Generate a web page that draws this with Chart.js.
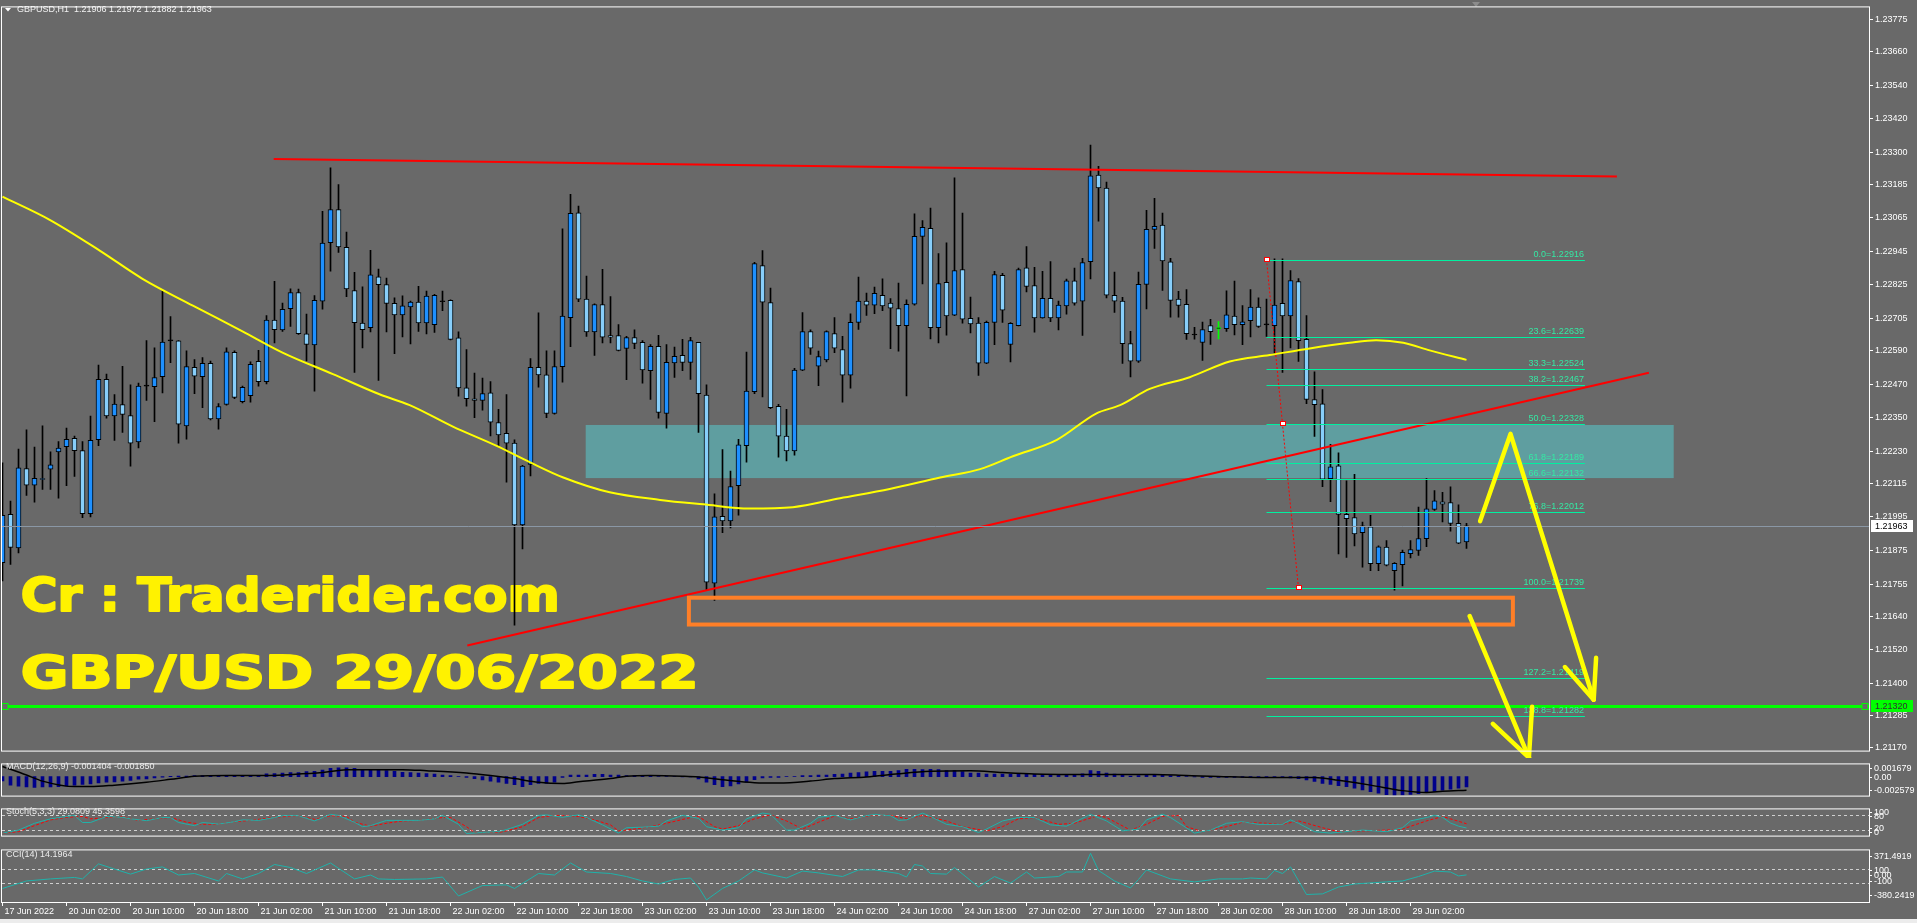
<!DOCTYPE html>
<html>
<head>
<meta charset="utf-8">
<title>GBPUSD H1</title>
<script src="https://cdn.jsdelivr.net/npm/chart.js@4.4.0/dist/chart.umd.min.js"></script>
<style>
  html, body { margin: 0; padding: 0; background: #696969; overflow: hidden; }
  #wrap { position: relative; width: 1917px; height: 923px; background: #696969; }
  #wrap canvas { position: absolute; left: 0; }
  #strip { position: absolute; left: 0; top: 919px; width: 1917px; height: 4px; background: #ececec; }
</style>
</head>
<body>
<div id="wrap">
  <canvas id="mainChart" width="1917" height="758" style="top:0px"></canvas>
  <canvas id="macdChart" width="1917" height="46" style="top:757px"></canvas>
  <canvas id="stochChart" width="1917" height="41" style="top:802px"></canvas>
  <canvas id="cciChart" width="1917" height="80" style="top:843px"></canvas>
  <div id="strip"></div>
</div>
<script>
// ---- price data, GBPUSD H1, 17 Jun 18:00 .. 29 Jun 09:00 (one value per bar) ----
const candleOpen = [
  1.21831,1.22004,1.21884,1.22168,1.22109,1.22129,1.22166,1.22228,1.22246,1.22276,
  1.22232,1.22007,1.22271,1.22487,1.22356,1.22397,1.22358,1.22263,1.22463,1.22461,
  1.22497,1.22625,1.22625,1.22321,1.22530,1.22497,1.22545,1.22346,1.22398,1.22584,
  1.22407,1.22429,1.22552,1.22479,1.22699,1.22664,1.22740,1.22798,1.22650,1.22610,
  1.22767,1.22976,1.23095,1.22960,1.22805,1.22689,1.22672,1.22854,1.22826,1.22759,
  1.22718,1.22746,1.22764,1.22689,1.22683,1.22765,1.22770,1.22636,1.22457,1.22418,
  1.22412,1.22439,1.22333,1.22294,1.22259,1.21966,1.22183,1.22530,1.22503,1.22365,
  1.22533,1.22708,1.23083,1.22774,1.22657,1.22755,1.22644,1.22644,1.22598,1.22637,
  1.22620,1.22518,1.22605,1.22365,1.22546,1.22573,1.22548,1.22620,1.22431,1.21758,
  1.21997,1.21981,1.22107,1.22250,1.22443,1.22894,1.22762,1.22391,1.22284,1.22231,
  1.22520,1.22658,1.22534,1.22557,1.22651,1.22594,1.22502,1.22691,1.22767,1.22753,
  1.22788,1.22760,1.22740,1.22679,1.22756,1.22999,1.23028,1.22672,1.22834,1.22717,
  1.22880,1.22706,1.22689,1.22545,1.22691,1.22859,1.22612,1.22679,1.22886,1.22823,
  1.22707,1.22777,1.22707,1.22750,1.22840,1.22767,1.22908,1.23218,1.23172,1.22788,
  1.22767,1.22615,1.22552,1.22827,1.23024,1.23039,1.22908,1.22774,1.22756,1.22646,
  1.22619,1.22680,1.22669,1.22669,1.22714,1.22683,1.22697,1.22746,1.22682,1.22679,
  1.22759,1.22714,1.22837,1.22630,1.22415,1.22400,1.22132,1.22178,1.22004,1.21993,
  1.21939,1.21960,1.21828,1.21887,1.21803,1.21824,1.21864,1.21875,1.21917,1.22022,
  1.22049,1.22046,1.21972,1.21906
];
const candleHigh = [
  1.22189,1.22052,1.22238,1.22307,1.22245,1.22321,1.22228,1.22265,1.22313,1.22284,
  1.22265,1.22356,1.22538,1.22506,1.22433,1.22534,1.22468,1.22474,1.22626,1.22600,
  1.22804,1.22712,1.22626,1.22589,1.22558,1.22565,1.22553,1.22401,1.22600,1.22589,
  1.22463,1.22550,1.22591,1.22715,1.22838,1.22760,1.22811,1.22810,1.22721,1.22787,
  1.23088,1.23244,1.23184,1.23014,1.22870,1.22818,1.22949,1.22882,1.22850,1.22779,
  1.22786,1.22767,1.22820,1.22803,1.22791,1.22803,1.22772,1.22657,1.22594,1.22510,
  1.22492,1.22479,1.22380,1.22433,1.22271,1.22180,1.22562,1.22725,1.22589,1.22589,
  1.23026,1.23149,1.23107,1.22857,1.22757,1.22881,1.22783,1.22683,1.22641,1.22664,
  1.22626,1.22612,1.22645,1.22612,1.22603,1.22630,1.22638,1.22620,1.22468,1.22078,
  1.22236,1.22159,1.22273,1.22585,1.22906,1.22948,1.22814,1.22398,1.22380,1.22527,
  1.22726,1.22664,1.22588,1.22661,1.22708,1.22641,1.22722,1.22853,1.22796,1.22817,
  1.22847,1.22776,1.22832,1.22772,1.23079,1.23055,1.23100,1.22937,1.22976,1.23208,
  1.23082,1.22782,1.22708,1.22696,1.22874,1.22867,1.22690,1.22885,1.22962,1.22888,
  1.22874,1.22909,1.22767,1.22846,1.22885,1.22920,1.23325,1.23249,1.23193,1.22871,
  1.22781,1.22659,1.22871,1.23092,1.23135,1.23082,1.22920,1.22802,1.22808,1.22673,
  1.22692,1.22702,1.22694,1.22804,1.22839,1.22751,1.22808,1.22779,1.22774,1.22918,
  1.22918,1.22876,1.22848,1.22715,1.22514,1.22451,1.22255,1.22224,1.22124,1.22147,
  1.21977,1.22001,1.21892,1.21910,1.21832,1.21876,1.21910,1.22030,1.22132,1.22089,
  1.22083,1.22103,1.22038,1.21972
];
const candleLow = [
  1.21766,1.21825,1.21866,1.22072,1.22048,1.22093,1.22093,1.22062,1.22107,1.22140,
  1.21992,1.21995,1.22250,1.22348,1.22269,1.22297,1.22177,1.22242,1.22412,1.22336,
  1.22439,1.22547,1.22259,1.22273,1.22436,1.22386,1.22342,1.22309,1.22395,1.22418,
  1.22403,1.22406,1.22463,1.22471,1.22618,1.22659,1.22677,1.22648,1.22553,1.22445,
  1.22738,1.22874,1.22941,1.22783,1.22512,1.22600,1.22657,1.22483,1.22657,1.22579,
  1.22639,1.22614,1.22659,1.22650,1.22655,1.22733,1.22628,1.22427,1.22391,1.22350,
  1.22377,1.22285,1.22250,1.22119,1.21608,1.21881,1.22142,1.22459,1.22350,1.22363,
  1.22477,1.22604,1.22765,1.22641,1.22573,1.22618,1.22618,1.22589,1.22486,1.22597,
  1.22474,1.22415,1.22348,1.22313,1.22494,1.22518,1.22487,1.22297,1.21731,1.21696,
  1.21939,1.21956,1.22001,1.22191,1.22436,1.22424,1.22382,1.22209,1.22195,1.22216,
  1.22518,1.22576,1.22465,1.22550,1.22583,1.22406,1.22456,1.22666,1.22716,1.22722,
  1.22733,1.22597,1.22588,1.22428,1.22753,1.22829,1.22632,1.22618,1.22645,1.22715,
  1.22688,1.22653,1.22501,1.22543,1.22611,1.22691,1.22550,1.22678,1.22800,1.22656,
  1.22706,1.22694,1.22664,1.22720,1.22753,1.22644,1.22847,1.23053,1.22779,1.22727,
  1.22544,1.22496,1.22548,1.22739,1.22956,1.22805,1.22710,1.22710,1.22630,1.22631,
  1.22555,1.22612,1.22632,1.22659,1.22646,1.22611,1.22639,1.22673,1.22641,1.22581,
  1.22512,1.22600,1.22551,1.22400,1.22283,1.22103,1.22050,1.21863,1.21850,1.21891,
  1.21815,1.21803,1.21803,1.21820,1.21733,1.21748,1.21848,1.21857,1.21889,1.22018,
  1.21977,1.21944,1.21899,1.21882
];
const candleClose = [
  1.22001,1.21886,1.22171,1.22109,1.22133,1.22132,1.22181,1.22241,1.22273,1.22232,
  1.22007,1.22269,1.22487,1.22356,1.22399,1.22362,1.22259,1.22463,1.22463,1.22494,
  1.22621,1.22625,1.22327,1.22533,1.22499,1.22545,1.22346,1.22390,1.22586,1.22423,
  1.22459,1.22541,1.22479,1.22699,1.22665,1.22738,1.22798,1.22651,1.22612,1.22770,
  1.22975,1.23095,1.22961,1.22811,1.22690,1.22665,1.22861,1.22826,1.22759,1.22718,
  1.22750,1.22764,1.22689,1.22785,1.22788,1.22765,1.22630,1.22457,1.22418,1.22412,
  1.22436,1.22334,1.22288,1.22259,1.21966,1.22177,1.22530,1.22503,1.22365,1.22533,
  1.22714,1.23081,1.22774,1.22657,1.22755,1.22638,1.22638,1.22591,1.22637,1.22616,
  1.22521,1.22605,1.22369,1.22548,1.22570,1.22548,1.22626,1.22436,1.21762,1.21995,
  1.21981,1.22104,1.22253,1.22445,1.22901,1.22763,1.22386,1.22284,1.22231,1.22520,
  1.22658,1.22599,1.22569,1.22658,1.22599,1.22502,1.22691,1.22767,1.22753,1.22795,
  1.22750,1.22742,1.22679,1.22756,1.22999,1.23031,1.22672,1.22830,1.22714,1.22876,
  1.22703,1.22686,1.22545,1.22691,1.22862,1.22735,1.22688,1.22880,1.22820,1.22707,
  1.22777,1.22707,1.22753,1.22840,1.22760,1.22905,1.23215,1.23172,1.22788,1.22767,
  1.22615,1.22552,1.22827,1.23024,1.23035,1.22911,1.22770,1.22752,1.22651,1.22646,
  1.22665,1.22658,1.22669,1.22718,1.22683,1.22693,1.22746,1.22677,1.22682,1.22753,
  1.22714,1.22841,1.22626,1.22415,1.22397,1.22130,1.22174,1.22004,1.21989,1.21934,
  1.21963,1.21828,1.21888,1.21822,1.21829,1.21868,1.21878,1.21918,1.22024,1.22053,
  1.22041,1.21972,1.21901,1.21963
];

// moving average, read at these bar positions
const maIdx = [0,5.9,12.2,17.5,23.8,30,35,41.3,47.2,50.9,56.3,61.7,65.9,70.1,75.9,82.2,87.6,93.4,98.8,104.7,110.9,117.2,122.2,126.3,131.8,136.7,139.7,143.4,148.4,153.4,158.4,163.4,168.4,171.7,175.1,178.4,183];
const maVal = [1.23141,1.23058,1.22947,1.22847,1.22751,1.22659,1.22583,1.22506,1.22433,1.22395,1.22318,1.22250,1.22191,1.22136,1.22083,1.22056,1.22040,1.22025,1.22030,1.22062,1.22095,1.22136,1.22166,1.22212,1.22271,1.22365,1.22395,1.22453,1.22495,1.22551,1.22574,1.22598,1.22618,1.22627,1.22618,1.22591,1.22557];

// MACD(12,26,9): main (histogram) one per bar, signal read at positions
const macdMain = [
  -0.00056,-0.00115,-0.0013,-0.0014,-0.00145,-0.0014,-0.0014,-0.00135,-0.00125,-0.00115,-0.00105,-0.001,-0.00085,-0.00075,-0.0007,-0.0006,-0.0005,-0.00035,-0.0003,-0.00015,
  -0.00005,0.00005,0.0001,0.0001,0.00015,0.00015,0.0001,0.0001,0.0001,0.00015,0.0001,0.0001,0.00015,0.0004,0.00043,0.0005,0.00056,0.00056,0.0007,0.00073,
  0.0009,0.00115,0.0012,0.0012,0.00115,0.001,0.00095,0.0009,0.00082,0.00073,0.0006,0.00056,0.0005,0.00043,0.00036,0.00023,0.00016,0.00003,-0.0001,-0.00026,
  -0.00043,-0.0006,-0.00076,-0.00092,-0.00109,-0.00135,-0.00109,-0.00092,-0.00092,-0.00076,-0.0001,0.00023,0.00023,0.00023,0.00033,0.00033,0.00023,0.00023,0.00016,0.00016,
  0.00016,0.0001,0.00003,0.00003,0,-0.00003,-0.00003,-0.0003,-0.00073,-0.0011,-0.00135,-0.00125,-0.001,-0.00075,-0.0004,-0.00015,-0.0001,-0.0001,0.00003,0.00003,
  0.00016,0.00016,0.00023,0.00023,0.00033,0.00036,0.0005,0.00056,0.00066,0.00073,0.00073,0.00073,0.00082,0.00099,0.00102,0.00096,0.00102,0.00096,0.00082,0.00082,
  0.0007,0.0005,0.00048,0.00036,0.00036,0.00036,0.00036,0.00033,0.00033,0.00033,0.00033,0.00033,0.00033,0.00033,0.00033,0.0004,0.00082,0.00073,0.0005,0.00036,
  0.00023,0.0001,0.00016,0.00023,0.0003,0.00023,0.00016,0.0001,0.00003,-0.00003,-0.0001,-0.0001,-0.0001,-0.0001,-0.0001,-0.0001,-0.0001,-0.0001,-0.0001,-0.0001,
  -0.00013,-0.00016,-0.00026,-0.00043,-0.00066,-0.0009,-0.00106,-0.00122,-0.00135,-0.00155,-0.0018,-0.00205,-0.00225,-0.00245,-0.00258,-0.00252,-0.00242,-0.0023,-0.00215,-0.002,
  -0.00185,-0.0017,-0.00155,-0.001404
];
const macdSigIdx = [0,3,5,9,11,14,18,21,24,28,32,36,40,43,50,53,58,61,64,67,70,72,76,78,81,85,87,90,94,97,101,104,108,112,116,121,125,129,135,144,148,152,157,164,167,171,175,178,180,183];
const macdSigVal = [0.0014,0.00023,-0.0006,-0.00135,-0.00135,-0.00115,-0.00076,-0.00036,0.00006,0.00016,0.00016,0.0003,0.00056,0.00096,0.00096,0.00082,0.0005,0.00016,-0.00026,-0.00076,-0.00092,-0.0007,-0.00026,0.00006,0.00016,0.00006,-0.00005,-0.00043,-0.00082,-0.00086,-0.0006,-0.00026,-0.00003,0.0004,0.00073,0.00082,0.00056,0.00036,0.0003,0.0003,0.00016,0.00003,-0.0001,-0.0001,-0.0005,-0.00115,-0.0019,-0.00215,-0.002,-0.00185];

// Stochastic(5,3,3)
const stochMainIdx = [0,2,4,6,8,9,10,11,13,15,16,18,20,21,22,24,25,27,29,30,32,34,35,37,39,41,42,44,45,46,48,50,52,54,55,57,58,60,62,63,65,67,68,70,72,73,75,77,78,80,82,83,85,87,88,90,92,93,95,96,97,98,99,101,102,104,106,108,109,111,112,113,115,116,118,120,122,123,125,127,129,131,133,134,136,138,140,142,143,145,146,149,151,153,155,157,160,161,162,164,166,170,173,175,176,178,179,180,181,182,183];
const stochMainVal = [9.6,21,47,64,73,77,50,50,73,70,64,57,69,69,50,38,50,44,53,60,58,69,76,76,56,81,77,51,34,38,58,58,58,64,77,43,8,12,15,23,43,77,79,70,79,69,41,10,30,32,36,56,77,66,34,21,30,64,86,82,51,21,21,47,70,77,60,76,81,76,58,60,86,73,43,34,12,25,56,69,69,41,36,51,81,56,18,25,60,82,69,9.6,21,47,53,43,43,60,47,15,9.6,21,15,30,56,69,77,70,48,36,29.0809];
const stochSigIdx = [0,2,4,6,8,10,11,13,15,17,20,21,23,25,27,29,31,34,37,39,41,43,44,46,48,50,52,55,56,58,59,62,63,65,67,69,72,74,76,77,79,81,83,86,87,89,90,92,94,96,98,100,102,104,106,109,111,113,115,118,120,123,125,127,129,132,134,137,138,141,143,145,147,148,150,153,155,158,160,162,165,167,170,173,175,178,180,181,183];
const stochSigVal = [9.6,15,38,60,70,73,64,69,73,58,67,69,51,43,44,53,58,70,76,62,76,73,51,36,47,56,58,69,69,34,12,12,18,34,69,77,73,60,41,18,25,34,47,69,73,34,25,38,64,79,56,25,51,75,64,79,77,64,77,56,34,18,34,64,69,43,47,77,69,21,43,73,77,34,15,34,51,47,43,56,30,15,18,21,25,56,73,64,45.3598];

// CCI(14)
const cciIdx = [0,3,6,9,10,12,14,16,18,20,22,24,27,28,30,32,34,36,38,41,44,46,47,49,53,55,57,60,63,64,67,69,71,73,76,78,80,82,84,86,87,88,90,92,94,95,98,100,102,105,107,109,112,113,114,115,116,118,119,122,124,126,128,129,132,133,135,136,137,139,141,142,143,146,149,152,155,156,158,159,160,161,163,165,167,169,173,175,177,179,181,182,183];
const cciVal = [-183,-74,-44,-22,-44,175,100,26,100,131,13,35,-74,35,-44,35,166,122,35,188,-44,13,-44,-52,-44,-17,-293,-140,-131,-183,35,13,188,57,35,-9,-74,-118,-52,-31,-162,-350,-183,-74,87,44,-31,70,44,-9,87,87,35,-17,166,144,35,26,122,-162,-9,-105,57,-31,-9,57,57,330,79,-74,-175,-52,87,-44,-87,-44,-44,-31,-44,79,35,131,-271,-262,-162,-118,-87,-74,-9,70,57,0,14.1964];

// axis ticks
const priceTicks = [1.23775,1.23660,1.23540,1.23420,1.23300,1.23185,1.23065,1.22945,1.22825,1.22705,1.22590,1.22470,1.22350,1.22230,1.22115,1.21995,1.21875,1.21755,1.21640,1.21520,1.21400,1.21285,1.21170];
const timeTickIdx = [0,8,16,24,32,40,48,56,64,72,80,88,96,104,112,120,128,136,144,152,160,168,176];
const timeTickText = ['17 Jun 2022','20 Jun 02:00','20 Jun 10:00','20 Jun 18:00','21 Jun 02:00','21 Jun 10:00','21 Jun 18:00','22 Jun 02:00','22 Jun 10:00','22 Jun 18:00','23 Jun 02:00','23 Jun 10:00','23 Jun 18:00','24 Jun 02:00','24 Jun 10:00','24 Jun 18:00','27 Jun 02:00','27 Jun 10:00','27 Jun 18:00','28 Jun 02:00','28 Jun 10:00','28 Jun 18:00','29 Jun 02:00'];
const macdAxisVal = [0.001679, 0, -0.002579];
const macdAxisText = ['0.001679', '0.00', '-0.002579'];
const stochAxisVal = [100, 80, 20, 0];
const stochLevels = [80, 20];
const cciAxisVal = [371.4919, 100, 0, -100, -380.2419];
const cciAxisText = ['371.4919', '100', '0.00', '-100', '-380.2419'];
const cciLevels = [100, -100];

// drawn objects (bar index, price)
const zoneIdx = [72.9, 208.9];
const zonePrice = [1.22324, 1.22134];
const boxIdx = [85.8, 188.8];
const boxPrice = [1.21706, 1.21610];
const resistIdx = [33.9, 201.8];
const resistPrice = [1.23276, 1.23213];
const trendIdx = [58.1, 205.8];
const trendPrice = [1.21535, 1.22511];
const supportLevel = 1.21320;
const fibIdx = [158, 197.8];
const fibRatio = ['0.0','23.6','33.3','38.2','50.0','61.8','66.6','76.8','100.0','127.2','138.8'];
const fibPrice = [1.22916,1.22639,1.22524,1.22467,1.22328,1.22189,1.22132,1.22012,1.21739,1.21419,1.21282];
const fibAnchorIdx = [158, 160, 162];
const fibAnchorPrice = [1.22916, 1.22328, 1.21739];
const arrowAIdx = [184.7, 188.5, 198.9];
const arrowAPrice = [1.21980, 1.22292, 1.21341];
const arrowAHeadIdx = [195.3, 199.2];
const arrowAHeadPrice = [1.21458, 1.21491];
const arrowBIdx = [183.4, 190.8];
const arrowBPrice = [1.21640, 1.21134];
const arrowBHeadIdx = [186.3, 191.2];
const arrowBHeadPrice = [1.21255, 1.21316];

// ---- layout / style ----
const FONT = 'Liberation Sans';
Chart.defaults.font.family = FONT;
Chart.defaults.font.size = 9;
const xMin = -0.0625, xMax = 233.3125;   // 8 px per bar
const AXIS_W = 48;
const N = candleOpen.length;
const idx = candleOpen.map((_, i) => i);
const markedBar = 152;   // green doji

const toXY = (xs, ys) => xs.map((x, i) => ({x: x, y: ys[i]}));

const framePlugin = {
  id: 'frame',
  afterDraw(chart) {
    const a = chart.chartArea, ctx = chart.ctx;
    ctx.save();
    ctx.strokeStyle = '#ffffff';
    ctx.lineWidth = 1;
    ctx.strokeRect(a.left - 0.5, a.top - 0.5, a.right - a.left + 1, a.bottom - a.top + 1);
    ctx.restore();
  }
};

function hLine(ctx, a, y, color, width, dash) {
  ctx.save();
  ctx.strokeStyle = color;
  ctx.lineWidth = width;
  ctx.setLineDash(dash || []);
  ctx.beginPath();
  ctx.moveTo(a.left, y);
  ctx.lineTo(a.right, y);
  ctx.stroke();
  ctx.restore();
}

function stretchedText(ctx, text, x, baseline, width, size) {
  ctx.save();
  ctx.font = 'bold ' + size + 'px "DejaVu Sans"';
  const w = ctx.measureText(text).width;
  ctx.translate(x, baseline);
  ctx.scale(width / w, 1);
  ctx.fillStyle = '#fff200';
  ctx.strokeStyle = '#fff200';
  ctx.lineWidth = 2;
  ctx.lineJoin = 'round';
  ctx.fillText(text, 0, 0);
  ctx.strokeText(text, 0, 0);
  ctx.restore();
}

function axisBox(ctx, x, y, text, bg, fg) {
  ctx.save();
  ctx.fillStyle = bg;
  ctx.fillRect(x, Math.round(y) - 6, 42, 12);
  ctx.fillStyle = fg;
  ctx.font = '9px "' + FONT + '"';
  ctx.textBaseline = 'middle';
  ctx.fillText(text, x + 4, Math.round(y) + 0.5);
  ctx.restore();
}

const mainOverlay = {
  id: 'mainOverlay',
  beforeDatasetsDraw(chart) {
    const {ctx, chartArea: a, scales: {x, y}} = chart;
    ctx.save();
    ctx.beginPath();
    ctx.rect(a.left, a.top, a.right - a.left, a.bottom - a.top);
    ctx.clip();
    // zone
    const zx0 = x.getPixelForValue(zoneIdx[0]), zx1 = x.getPixelForValue(zoneIdx[1]);
    const zy0 = y.getPixelForValue(zonePrice[0]), zy1 = y.getPixelForValue(zonePrice[1]);
    ctx.fillStyle = '#5f9ea0';
    ctx.fillRect(zx0, zy0, zx1 - zx0, zy1 - zy0);
    // labels behind the bars
    stretchedText(ctx, 'Cr : Traderider.com', 20.7, 610.7, 539, 46);
    stretchedText(ctx, 'GBP/USD 29/06/2022', 20.7, 687.7, 678, 45);
    ctx.restore();
  },
  afterDatasetsDraw(chart) {
    const {ctx, chartArea: a, scales: {x, y}} = chart;
    ctx.save();
    ctx.beginPath();
    ctx.rect(a.left, a.top, a.right - a.left, a.bottom - a.top);
    ctx.clip();

    // last price line
    const lastY = Math.round(y.getPixelForValue(candleClose[N - 1])) + 0.5;
    hLine(ctx, a, lastY, '#8a97a5', 1);

    // orange box
    const bx0 = x.getPixelForValue(boxIdx[0]), bx1 = x.getPixelForValue(boxIdx[1]);
    const by0 = y.getPixelForValue(boxPrice[0]), by1 = y.getPixelForValue(boxPrice[1]);
    ctx.strokeStyle = '#ff7f27';
    ctx.lineWidth = 4;
    ctx.strokeRect(bx0, by0, bx1 - bx0, by1 - by0);

    // support level
    const sy = Math.round(y.getPixelForValue(supportLevel)) + 0.5;
    hLine(ctx, a, sy, '#00ff00', 3);
    ctx.strokeStyle = '#00ff00';
    ctx.lineWidth = 1;
    ctx.fillStyle = '#696969';
    [a.left + 3, a.right - 4].forEach(cx => {
      ctx.fillRect(cx - 3, sy - 3, 6, 6);
      ctx.strokeRect(cx - 3, sy - 3, 6, 6);
    });

    // fibonacci
    const fx0 = x.getPixelForValue(fibIdx[0]), fx1 = x.getPixelForValue(fibIdx[1]);
    ctx.font = '9px "' + FONT + '"';
    ctx.textAlign = 'right';
    ctx.textBaseline = 'bottom';
    fibPrice.forEach((p, i) => {
      const fy = Math.round(y.getPixelForValue(p)) + 0.5;
      ctx.strokeStyle = '#00f0a0';
      ctx.lineWidth = 1;
      ctx.beginPath();
      ctx.moveTo(fx0, fy);
      ctx.lineTo(fx1, fy);
      ctx.stroke();
      ctx.fillStyle = '#34eaa4';
      ctx.fillText(fibRatio[i] + '=' + p.toFixed(5), fx1 - 1, fy - 1);
    });
    const ap = fibAnchorIdx.map((v, i) => [x.getPixelForValue(v), y.getPixelForValue(fibAnchorPrice[i])]);
    ctx.strokeStyle = '#ff0000';
    ctx.setLineDash([2, 2]);
    ctx.beginPath();
    ctx.moveTo(ap[0][0], ap[0][1]);
    ctx.lineTo(ap[2][0], ap[2][1]);
    ctx.stroke();
    ctx.setLineDash([]);
    ap.forEach(pt => {
      ctx.fillStyle = '#ffffff';
      ctx.fillRect(Math.round(pt[0]) - 2, Math.round(pt[1]) - 2, 5, 4);
      ctx.strokeStyle = '#ff0000';
      ctx.strokeRect(Math.round(pt[0]) - 2.5, Math.round(pt[1]) - 2.5, 5, 4);
    });
    ctx.restore();

    // hand drawn arrows
    ctx.save();
    ctx.strokeStyle = '#ffff00';
    ctx.lineWidth = 4.5;
    ctx.lineCap = 'round';
    ctx.lineJoin = 'round';
    const path = (xs, ys) => {
      ctx.beginPath();
      xs.forEach((v, i) => {
        const px = x.getPixelForValue(v), py = y.getPixelForValue(ys[i]);
        if (i === 0) ctx.moveTo(px, py); else ctx.lineTo(px, py);
      });
      ctx.stroke();
    };
    const tipA = arrowAIdx.length - 1;
    path(arrowAIdx, arrowAPrice);
    arrowAHeadIdx.forEach((v, i) => path([v, arrowAIdx[tipA]], [arrowAHeadPrice[i], arrowAPrice[tipA]]));
    path(arrowBIdx, arrowBPrice);
    arrowBHeadIdx.forEach((v, i) => path([v, arrowBIdx[1]], [arrowBHeadPrice[i], arrowBPrice[1]]));
    ctx.restore();
  },
  afterDraw(chart) {
    const {ctx, chartArea: a, scales: {y}} = chart;
    const last = N - 1;
    axisBox(ctx, a.right + 2, y.getPixelForValue(candleClose[last]), candleClose[last].toFixed(5), '#ffffff', '#000000');
    axisBox(ctx, a.right + 2, y.getPixelForValue(supportLevel), supportLevel.toFixed(5), '#00ff00', '#303030');
    // header
    ctx.save();
    ctx.fillStyle = '#ffffff';
    ctx.beginPath();
    ctx.moveTo(5, 8); ctx.lineTo(11, 8); ctx.lineTo(8, 11.5); ctx.closePath();
    ctx.fill();
    ctx.fillStyle = '#f2f2f2';
    ctx.font = '9px "' + FONT + '"';
    ctx.textBaseline = 'middle';
    ctx.fillText('GBPUSD,H1  ' + [candleOpen[last], candleHigh[last], candleLow[last], candleClose[last]].map(v => v.toFixed(5)).join(' '), 17, 10);
    // chart shift marker
    ctx.fillStyle = '#8c8c8c';
    ctx.beginPath();
    ctx.moveTo(1472, 2); ctx.lineTo(1480, 2); ctx.lineTo(1476, 7); ctx.closePath();
    ctx.fill();
    ctx.restore();
  }
};

function titlePlugin(textFn, y) {
  return {
    id: 'title_' + y,
    afterDraw(chart) {
      const ctx = chart.ctx;
      ctx.save();
      ctx.fillStyle = '#ececec';
      ctx.font = '9px "' + FONT + '"';
      ctx.textBaseline = 'middle';
      ctx.fillText(textFn(), 6, y);
      ctx.restore();
    }
  };
}

function levelPlugin(levels) {
  return {
    id: 'levels',
    beforeDatasetsDraw(chart) {
      const {ctx, chartArea: a, scales: {y}} = chart;
      levels.forEach(l => hLine(ctx, a, Math.round(y.getPixelForValue(l)) + 0.5, '#cfcfcf', 1, [3, 3]));
    }
  };
}

function rightAxis(min, max, values, texts) {
  return {
    axis: 'y', position: 'right', min: min, max: max,
    afterFit(s) { s.width = AXIS_W; },
    afterBuildTicks(s) { s.ticks = values.map(v => ({value: v})); },
    ticks: {
      color: '#ffffff', padding: 2, autoSkip: false,
      font: {family: FONT, size: 9},
      callback: (v, i) => texts ? texts[i] : String(v)
    },
    grid: {drawOnChartArea: false, tickLength: 3, color: '#ffffff'},
    border: {display: true, color: '#ffffff'}
  };
}

const baseOptions = (padding) => ({
  responsive: false,
  animation: false,
  devicePixelRatio: 1,
  layout: {padding: padding},
  plugins: {legend: {display: false}, tooltip: {enabled: false}},
  events: []
});

// ---- main price window ----
const bullColor = '#1e90ff', bearColor = '#87cefa';
const bodyColors = idx.map(i => candleClose[i] > candleOpen[i] ? bullColor : (candleClose[i] < candleOpen[i] ? bearColor : '#000000'));
const edgeColors = idx.map(i => i === markedBar ? '#00ff00' : '#000000');

const mainOpts = baseOptions({left: 2, top: 2, bottom: 2, right: 0});
mainOpts.scales = {
  x: {type: 'linear', display: false, min: xMin, max: xMax, offset: false, grid: {offset: false}},
  y: {
    position: 'right', min: 1.21159, max: 1.23818,
    afterFit(s) { s.width = AXIS_W; },
    afterBuildTicks(s) { s.ticks = priceTicks.map(v => ({value: v})); },
    ticks: {color: '#ffffff', padding: 2, autoSkip: false, font: {family: FONT, size: 9}, callback: v => v.toFixed(5)},
    grid: {drawOnChartArea: false, tickLength: 4, color: '#ffffff'},
    border: {display: true, color: '#ffffff'}
  }
};

new Chart(document.getElementById('mainChart'), {
  type: 'bar',
  data: {
    datasets: [
      {type: 'line', data: toXY(resistIdx, resistPrice), borderColor: '#ff0000', borderWidth: 2, pointRadius: 0, order: 0},
      {type: 'line', data: toXY(trendIdx, trendPrice), borderColor: '#ff0000', borderWidth: 2, pointRadius: 0, order: 0},
      {type: 'line', data: toXY(maIdx, maVal), borderColor: '#ffff00', borderWidth: 2, pointRadius: 0,
       cubicInterpolationMode: 'monotone', order: 1},
      {data: idx.map(i => ({x: i, y: [candleOpen[i], candleClose[i]]})), backgroundColor: bodyColors, borderColor: edgeColors,
       borderWidth: 1, borderSkipped: false, barThickness: 5, minBarLength: 1, grouped: false, order: 2},
      {data: idx.map(i => ({x: i, y: [candleLow[i], candleHigh[i]]})), backgroundColor: edgeColors,
       borderWidth: 0, barThickness: 1, grouped: false, order: 3}
    ]
  },
  options: mainOpts,
  plugins: [mainOverlay, framePlugin]
});

// ---- MACD ----
const macdOpts = baseOptions({left: 2, top: 2, bottom: 2, right: 0});
macdOpts.scales = {
  x: {type: 'linear', display: false, min: xMin, max: xMax, offset: false},
  y: {display: false, min: -0.002579, max: 0.001679},
  yl: rightAxis(-0.003607, 0.002560, macdAxisVal, macdAxisText)
};
new Chart(document.getElementById('macdChart'), {
  type: 'bar',
  data: {
    datasets: [
      {type: 'line', data: toXY(macdSigIdx, macdSigVal), borderColor: '#000000', borderWidth: 1.5, pointRadius: 0,
       cubicInterpolationMode: 'monotone', order: 0, yAxisID: 'y'},
      {data: idx.map(i => ({x: i, y: macdMain[i]})), backgroundColor: '#00008b', barThickness: 3, grouped: false, order: 1, yAxisID: 'y'}
    ]
  },
  options: macdOpts,
  plugins: [framePlugin, titlePlugin(() => 'MACD(12,26,9) ' + macdMain[N - 1].toFixed(6) + ' ' + macdSigVal[macdSigVal.length - 1].toFixed(6), 10)]
});

// ---- Stochastic ----
const stochOpts = baseOptions({left: 2, top: 2, bottom: 2, right: 0});
stochOpts.scales = {
  x: {type: 'linear', display: false, min: xMin, max: xMax, offset: false},
  y: {display: false, min: 0, max: 100},
  yl: rightAxis(-14, 115.8, stochAxisVal, null)
};
new Chart(document.getElementById('stochChart'), {
  type: 'line',
  data: {
    datasets: [
      {data: toXY(stochMainIdx, stochMainVal), borderColor: '#20b2aa', borderWidth: 1, pointRadius: 0, yAxisID: 'y'},
      {data: toXY(stochSigIdx, stochSigVal), borderColor: '#ff0000', borderWidth: 1, borderDash: [3, 2], pointRadius: 0, yAxisID: 'y'}
    ]
  },
  options: stochOpts,
  plugins: [levelPlugin(stochLevels), framePlugin,
    titlePlugin(() => 'Stoch(5,3,3) ' + stochMainVal[stochMainVal.length - 1].toFixed(4) + ' ' + stochSigVal[stochSigVal.length - 1].toFixed(4), 10)]
});

// ---- CCI + time axis ----
const cciOpts = baseOptions({left: 2, top: 3, bottom: 0, right: 0});
cciOpts.scales = {
  x: {
    type: 'linear', position: 'bottom', min: xMin, max: xMax, offset: false,
    afterFit(s) { s.height = 21; },
    afterBuildTicks(s) { s.ticks = timeTickIdx.map(v => ({value: v})); },
    ticks: {
      color: '#ffffff', autoSkip: false, maxRotation: 0, align: 'start', padding: 0, labelOffset: 2,
      font: {family: FONT, size: 9},
      callback: (v, i) => timeTickText[i]
    },
    grid: {drawOnChartArea: false, tickLength: 4, color: '#ffffff', offset: false},
    border: {display: true, color: '#ffffff'}
  },
  y: {display: false, min: -380.2419, max: 371.4919},
  yl: rightAxis(-505.5, 496.8, cciAxisVal, cciAxisText)
};
new Chart(document.getElementById('cciChart'), {
  type: 'line',
  data: {
    datasets: [
      {data: toXY(cciIdx, cciVal), borderColor: '#20b2aa', borderWidth: 1, pointRadius: 0, yAxisID: 'y'}
    ]
  },
  options: cciOpts,
  plugins: [levelPlugin(cciLevels), framePlugin, titlePlugin(() => 'CCI(14) ' + cciVal[cciVal.length - 1].toFixed(4), 12)]
});
</script>
</body>
</html>
